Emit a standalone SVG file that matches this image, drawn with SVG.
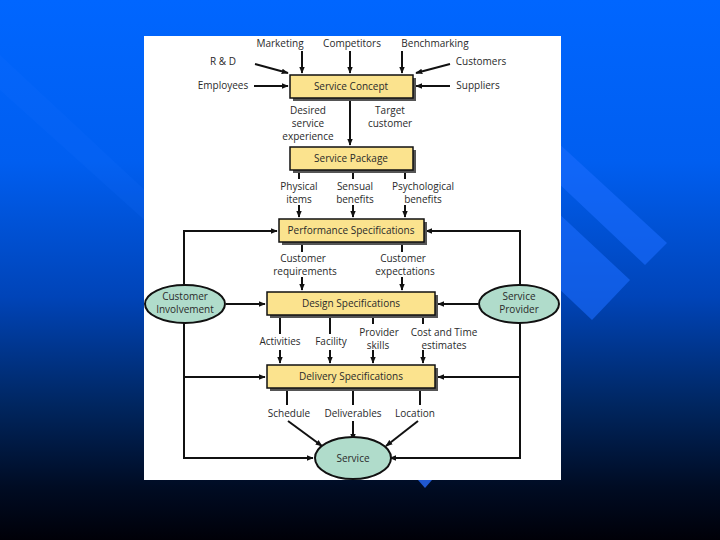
<svg xmlns="http://www.w3.org/2000/svg" width="720" height="540" viewBox="0 0 720 540">
<defs>
<linearGradient id="bg" x1="0" y1="0" x2="0" y2="1">
<stop offset="0" stop-color="#0066ff"/>
<stop offset="0.3" stop-color="#005ef0"/>
<stop offset="0.55" stop-color="#0044b8"/>
<stop offset="0.75" stop-color="#002660"/>
<stop offset="0.9" stop-color="#000c24"/>
<stop offset="1" stop-color="#000008"/>
</linearGradient>
<marker id="ah" viewBox="0 0 10 10" refX="9" refY="5" markerWidth="7" markerHeight="7" markerUnits="userSpaceOnUse" orient="auto">
<path d="M0,1 L10,5 L0,9 z" fill="#111"/>
</marker>
</defs>
<style>
.t{font-family:"Open Sans","Liberation Sans",sans-serif;font-size:10px;fill:#2a2a2a;text-anchor:middle}
.box{fill:#fbe38e;stroke:#111;stroke-width:1.5}
.sh{fill:#555}
.ell{fill:#b0dccb;stroke:#111;stroke-width:2}
.ln{fill:none;stroke:#111;stroke-width:2}
.ar{fill:none;stroke:#111;stroke-width:2;marker-end:url(#ah)}
</style>
<rect width="720" height="540" fill="url(#bg)"/>
<!-- decorations -->
<polygon points="0,55 150,195 150,225 0,90" fill="#1a70ff" opacity="0.15"/>
<polygon points="555,140 667,243 645,265 555,180" fill="#1a6cff" opacity="0.6"/>
<polygon points="555,210 630,280 592,320 555,285" fill="#1a6cff" opacity="0.6"/>
<polygon points="418,480 432,480 425,488" fill="#2058d0"/>
<rect x="144" y="36" width="417" height="444" fill="#fff"/>
<g id="connectors">
<line class="ar" x1="302" y1="51" x2="302" y2="73"/>
<line class="ar" x1="350" y1="51" x2="350" y2="73"/>
<line class="ar" x1="402" y1="51" x2="402" y2="73"/>
<line class="ar" x1="255" y1="64" x2="288" y2="73"/>
<line class="ar" x1="450" y1="64" x2="416" y2="73"/>
<line class="ar" x1="254" y1="86" x2="288" y2="86"/>
<line class="ar" x1="450" y1="86" x2="416" y2="86"/>
<line class="ar" x1="350" y1="100" x2="350" y2="145"/>
<line class="ln" x1="299" y1="172" x2="299" y2="179"/>
<line class="ln" x1="353" y1="172" x2="353" y2="179"/>
<line class="ln" x1="405" y1="172" x2="405" y2="179"/>
<line class="ar" x1="299" y1="205" x2="299" y2="217"/>
<line class="ar" x1="353" y1="205" x2="353" y2="217"/>
<line class="ar" x1="405" y1="205" x2="405" y2="217"/>
<line class="ln" x1="302" y1="244" x2="302" y2="252"/>
<line class="ln" x1="402" y1="244" x2="402" y2="252"/>
<line class="ar" x1="302" y1="277" x2="302" y2="290"/>
<line class="ar" x1="402" y1="277" x2="402" y2="290"/>
<line class="ar" x1="226" y1="304" x2="265" y2="304"/>
<line class="ar" x1="478" y1="304" x2="438" y2="304"/>
<polyline class="ar" points="184,285 184,231 277,231"/>
<polyline class="ar" points="520,285 520,231 426,231"/>
<polyline class="ar" points="184,322 184,458 313,458"/>
<polyline class="ar" points="520,322 520,458 390,458"/>
<line class="ar" x1="184" y1="377" x2="265" y2="377"/>
<line class="ar" x1="520" y1="377" x2="438" y2="377"/>
<line class="ln" x1="280" y1="317" x2="280" y2="334"/>
<line class="ln" x1="330" y1="317" x2="330" y2="334"/>
<line class="ln" x1="373" y1="317" x2="373" y2="324"/>
<line class="ln" x1="423" y1="317" x2="423" y2="324"/>
<line class="ar" x1="280" y1="350" x2="280" y2="363"/>
<line class="ar" x1="330" y1="350" x2="330" y2="363"/>
<line class="ar" x1="373" y1="350" x2="373" y2="363"/>
<line class="ar" x1="423" y1="350" x2="423" y2="363"/>
<line class="ln" x1="287" y1="391" x2="287" y2="405"/>
<line class="ln" x1="353" y1="391" x2="353" y2="405"/>
<line class="ln" x1="420" y1="391" x2="420" y2="405"/>
<line class="ar" x1="288" y1="421" x2="322" y2="446"/>
<line class="ar" x1="353" y1="421" x2="353" y2="440"/>
<line class="ar" x1="418" y1="421" x2="386" y2="446"/>
</g>
<g id="labels">
<text class="t" x="280" y="47">Marketing</text>
<text class="t" x="352" y="47">Competitors</text>
<text class="t" x="435" y="47">Benchmarking</text>
<text class="t" x="223" y="65">R &amp; D</text>
<text class="t" x="481" y="65">Customers</text>
<text class="t" x="223" y="89">Employees</text>
<text class="t" x="478" y="89">Suppliers</text>
<text class="t" x="308" y="114">Desired</text>
<text class="t" x="308" y="127">service</text>
<text class="t" x="308" y="140">experience</text>
<text class="t" x="390" y="114">Target</text>
<text class="t" x="390" y="127">customer</text>
<text class="t" x="299" y="190">Physical</text>
<text class="t" x="299" y="203">items</text>
<text class="t" x="355" y="190">Sensual</text>
<text class="t" x="355" y="203">benefits</text>
<text class="t" x="423" y="190">Psychological</text>
<text class="t" x="423" y="203">benefits</text>
<text class="t" x="303" y="262">Customer</text>
<text class="t" x="305" y="275">requirements</text>
<text class="t" x="403" y="262">Customer</text>
<text class="t" x="405" y="275">expectations</text>
<text class="t" x="280" y="345">Activities</text>
<text class="t" x="331" y="345">Facility</text>
<text class="t" x="379" y="336">Provider</text>
<text class="t" x="378" y="349">skills</text>
<text class="t" x="444" y="336">Cost and Time</text>
<text class="t" x="444" y="349">estimates</text>
<text class="t" x="289" y="417">Schedule</text>
<text class="t" x="353" y="417">Deliverables</text>
<text class="t" x="415" y="417">Location</text>
</g>
<g id="service-concept">
<rect class="sh" x="293" y="78" width="123" height="23"/>
<rect class="box" x="290" y="75" width="123" height="23"/>
<text class="t" x="351" y="90">Service Concept</text>
</g>
<g id="service-package">
<rect class="sh" x="293" y="150" width="123" height="23"/>
<rect class="box" x="290" y="147" width="123" height="23"/>
<text class="t" x="351" y="162">Service Package</text>
</g>
<g id="performance-specifications">
<rect class="sh" x="282" y="222" width="145" height="23"/>
<rect class="box" x="279" y="219" width="145" height="23"/>
<text class="t" x="351" y="234">Performance Specifications</text>
</g>
<g id="design-specifications">
<rect class="sh" x="270" y="295" width="168" height="23"/>
<rect class="box" x="267" y="292" width="168" height="23"/>
<text class="t" x="351" y="307">Design Specifications</text>
</g>
<g id="delivery-specifications">
<rect class="sh" x="270" y="368" width="168" height="23"/>
<rect class="box" x="267" y="365" width="168" height="23"/>
<text class="t" x="351" y="380">Delivery Specifications</text>
</g>
<g id="customer-involvement">
<ellipse class="ell" cx="185" cy="304" rx="40" ry="19"/>
<text class="t" x="185" y="300">Customer</text>
<text class="t" x="185" y="313">Involvement</text>
</g>
<g id="service-provider">
<ellipse class="ell" cx="519" cy="304" rx="40" ry="19"/>
<text class="t" x="519" y="300">Service</text>
<text class="t" x="519" y="313">Provider</text>
</g>
<g id="service">
<ellipse class="ell" cx="353" cy="458" rx="38" ry="21"/>
<text class="t" x="353" y="462">Service</text>
</g>
</svg>
